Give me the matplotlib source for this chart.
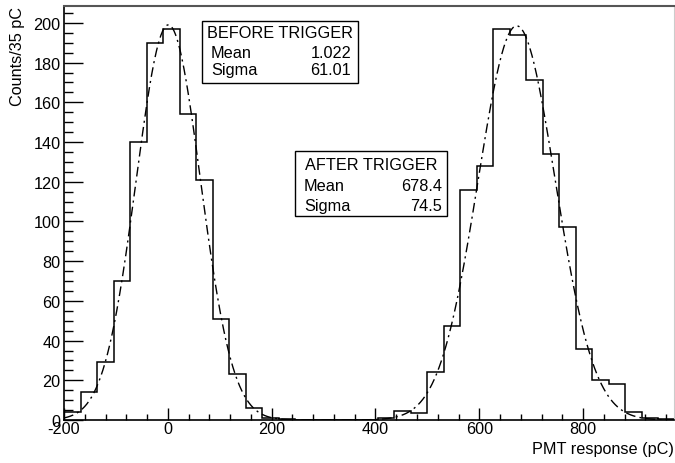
import numpy as np
import matplotlib
matplotlib.use('Agg')
import matplotlib.pyplot as plt
from matplotlib.patches import Rectangle
from matplotlib.ticker import MultipleLocator

plt.rcParams['font.family'] = ['Liberation Sans', 'DejaVu Sans']
plt.rcParams['axes.unicode_minus'] = False

# histogram: regular bins starting at -200
bin_start = -200.0
bin_width = 31.8
counts = [4, 14, 29, 70, 140, 190, 197, 154, 121, 51, 23, 6, 1, 0.5,
          0, 0, 0, 0, 0, 1, 4.5, 3.5, 24, 47.5, 116, 128, 197, 194, 171,
          134, 97, 36, 20, 18, 4, 1, 0.5]

# gaussian fits (amplitude, mean, sigma)
fit_amp = [199, 198.5]
fit_mean = [1.0, 672.0]
fit_sigma = [62.0, 74.5]

# stat boxes
box_titles = ['BEFORE TRIGGER', 'AFTER TRIGGER']
box_mean = ['1.022', '678.4']
box_sigma = ['61.01', '74.5']

W, H = 675, 464
fig = plt.figure(figsize=(W / 100, H / 100), dpi=100)
ax = fig.add_axes([64 / W, 1 - 421 / H, 610 / W, 414 / H])

edges = bin_start + bin_width * np.arange(len(counts) + 1)
ax.stairs(counts, edges, color='black', linewidth=1.1)

xs = np.linspace(-200, 975, 800)
fit = np.zeros_like(xs)
for a, m, s in zip(fit_amp, fit_mean, fit_sigma):
    fit += a * np.exp(-0.5 * ((xs - m) / s) ** 2)
ax.plot(xs, fit, color='black', linewidth=1.0, linestyle=(0, (7, 3, 1.5, 3)))

ax.set_xlim(-200, 975)
ax.set_ylim(0, 208.5)
ax.xaxis.set_major_locator(MultipleLocator(200))
ax.xaxis.set_minor_locator(MultipleLocator(40))
ax.yaxis.set_major_locator(MultipleLocator(20))
ax.yaxis.set_minor_locator(MultipleLocator(5))
ax.tick_params(axis='x', which='major', direction='in', length=8.4, width=1,
               labelsize=11.7, pad=1.0)
ax.tick_params(axis='x', which='minor', direction='in', length=4.3, width=1)
ax.tick_params(axis='y', which='major', direction='in', length=13.5, width=1,
               labelsize=11.7, pad=2.5)
ax.tick_params(axis='y', which='minor', direction='in', length=6.7, width=1)

for side in ['left', 'bottom']:
    ax.spines[side].set_linewidth(1.2)
ax.spines['top'].set_color('#555555')
ax.spines['top'].set_linewidth(1.5)
ax.spines['right'].set_color('#cccccc')

fig.text(18 / W, 1 - 7 / H, 'Counts/35 pC', rotation=90, ha='center', va='top',
         fontsize=11.7)
fig.text(674 / W, 1 - 450 / H, 'PMT response (pC)', ha='right', va='center',
         fontsize=11.7)

# box geometry in pixels: (left, top, right, bottom), row centers
boxes = [(202, 22, 358, 84, [33, 54, 71], 211, 351),
         (295, 152, 447, 217, [165, 187, 207], 304, 442)]
for i, (l, t, r, b, rows, lx, rx) in enumerate(boxes):
    fig.patches.append(Rectangle((l / W, 1 - b / H), (r - l) / W, (b - t) / H,
                                 transform=fig.transFigure, facecolor='white',
                                 edgecolor='black', linewidth=1.0, zorder=5))
    fig.text((l + r) / 2 / W, 1 - rows[0] / H, box_titles[i], ha='center',
             va='center', fontsize=11.7, zorder=6)
    fig.text(lx / W, 1 - rows[1] / H, 'Mean', ha='left', va='center',
             fontsize=11.7, zorder=6)
    fig.text(rx / W, 1 - rows[1] / H, box_mean[i], ha='right', va='center',
             fontsize=11.7, zorder=6)
    fig.text(lx / W, 1 - rows[2] / H, 'Sigma', ha='left', va='center',
             fontsize=11.7, zorder=6)
    fig.text(rx / W, 1 - rows[2] / H, box_sigma[i], ha='right', va='center',
             fontsize=11.7, zorder=6)

fig.savefig('out.png', dpi=100)
